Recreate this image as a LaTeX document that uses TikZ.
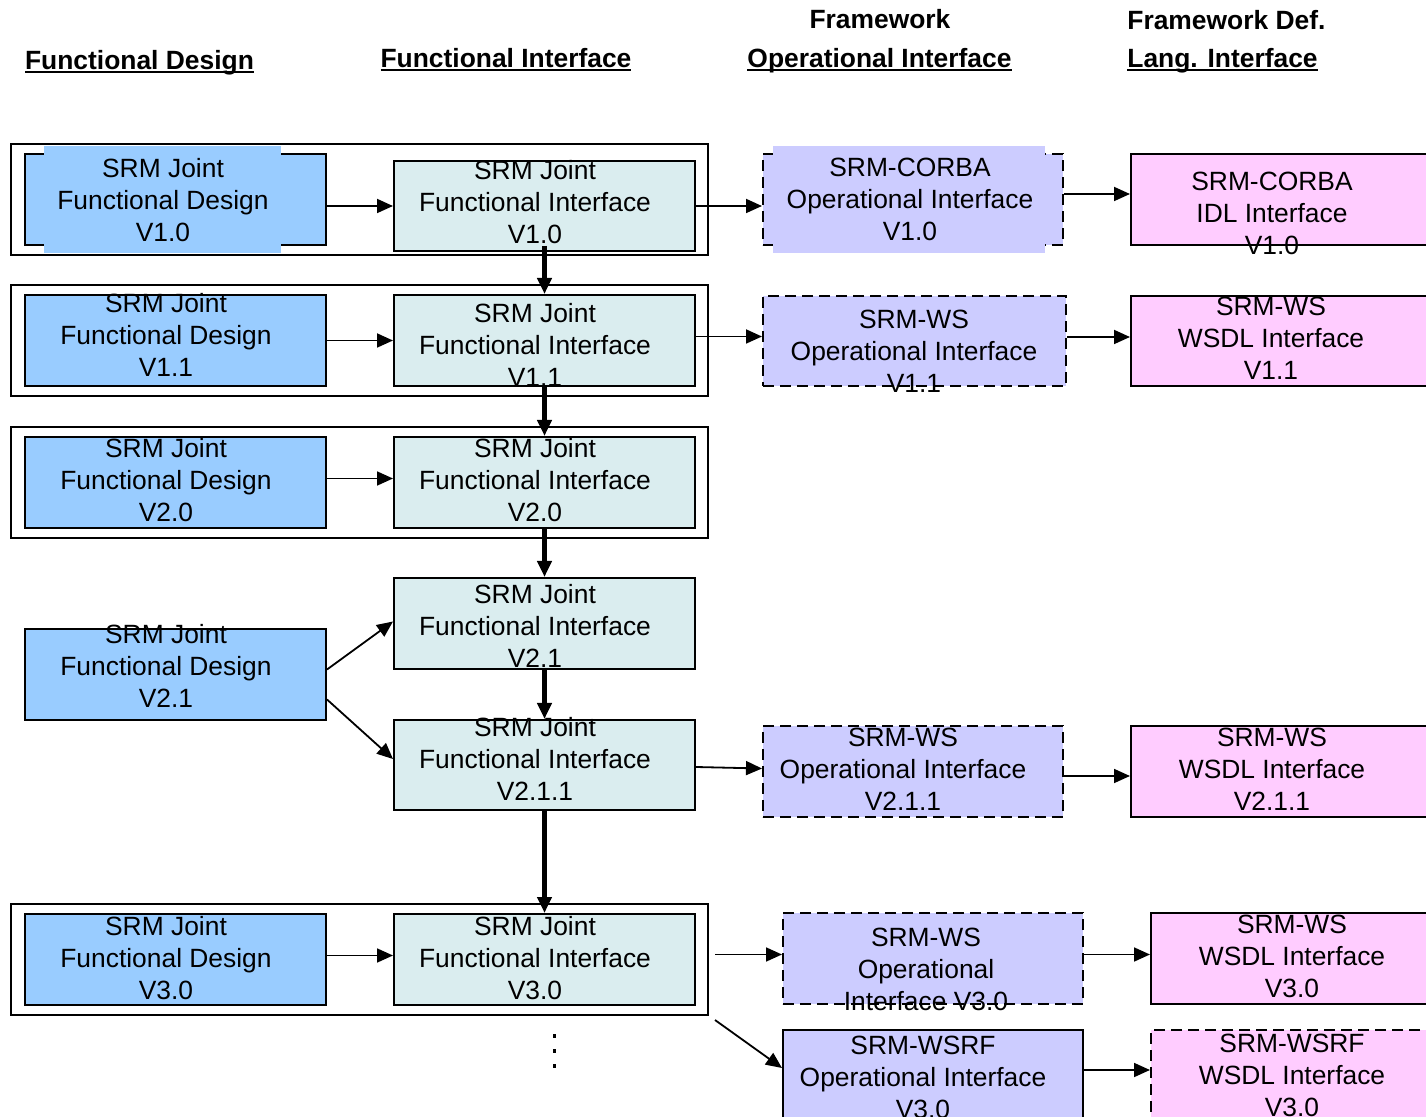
\documentclass[tikz,border=0pt]{standalone}
\usepackage{fontspec}
\setmainfont{Liberation Sans}
\usepackage{xcolor}
\usetikzlibrary{arrows.meta,calc}

\definecolor{dsgnblue}{RGB}{153,204,255}
\definecolor{ifcteal}{RGB}{218,237,239}
\definecolor{oplav}{RGB}{204,204,255}
\definecolor{langpink}{RGB}{255,204,255}

% underline sitting close to the baseline
\newsavebox{\hdrbox}
\newcommand{\hdrul}[1]{\sbox{\hdrbox}{#1}\rlap{\rule[-2pt]{\wd\hdrbox}{1pt}}\usebox{\hdrbox}}

\tikzset{
  box/.style={draw, line width=1pt, minimum height=45.5pt, inner sep=0pt},
  dsgn/.style={box, fill=dsgnblue, minimum width=150.5pt},
  ifc/.style={box, fill=ifcteal, minimum width=150.5pt},
  oper/.style={box, fill=oplav, minimum width=150pt},
  lang/.style={box, fill=langpink, minimum width=155pt},
  brk/.style={dash pattern=on 5.5pt off 3pt},
  grp/.style={draw, line width=1pt, minimum width=348.5pt, minimum height=55.5pt, inner sep=0pt},
  txt/.style={align=center, inner sep=0pt, font=\fontsize{13.2}{16}\selectfont},
  hdr/.style={inner sep=0pt, font=\fontsize{13.2}{16}\selectfont\bfseries},
  arr/.style={line width=0.9pt, -{Triangle[length=8pt,width=7pt]}},
  bigarr/.style={line width=2.5pt, -{Triangle[length=8pt,width=7pt]}},
}

\begin{document}
\begin{tikzpicture}[x=0.5pt,y=-0.5pt]
    \useasboundingbox (0,0) rectangle (1426,1117);
    \clip (0,0) rectangle (1426,1117);

    % Column headers
    \node[hdr, anchor=base] (hfd) at (139.5,69.5) {\hdrul{Functional Design}};
    \node[hdr, anchor=base] (hfi) at (506,67.5) {\hdrul{Functional Interface}};
    \node[hdr, anchor=base] (hfw) at (880,28.5) {Framework};
    \node[hdr, anchor=base] (hoi) at (879.5,67.5) {\hdrul{Operational Interface}};
    \node[hdr, anchor=base west] (hfdef) at (1127,29.5) {Framework Def.};
    \node[hdr, anchor=base west] (hli) at (1127,67.5) {\hdrul{Lang. Interface}};

    % Groups
    \node[grp] (g10) at (359.5,199.5) {};
    \node[grp] (g11) at (359.5,340.5) {};
    \node[grp] (g20) at (359.5,482.5) {};
    \node[grp] (g30) at (359.5,959.5) {};

    % Functional design boxes
    \node[dsgn] (d10) at (175.5,199.5) {};
    \node[dsgn] (d11) at (175.5,340.5) {};
    \node[dsgn] (d20) at (175.5,482.5) {};
    \node[dsgn] (d21) at (175.5,674.5) {};
    \node[dsgn] (d30) at (175.5,959.5) {};
    \fill[dsgnblue] (44,146) rectangle (281,253);

    % Functional interface boxes
    \node[ifc, minimum height=45pt] (i10) at (544.5,206) {};
    \node[ifc] (i11) at (544.5,340.5) {};
    \node[ifc] (i20) at (544.5,482.5) {};
    \node[ifc] (i21) at (544.5,623.5) {};
    \node[ifc, minimum height=45pt] (i211) at (544.5,765) {};
    \node[ifc] (i30) at (544.5,959.5) {};

    % Operational interface boxes
    \node[oper, brk] (o10) at (913,199.5) {};
    \fill[oplav] (773,146) rectangle (1045,253);
    \node[oper, brk, minimum width=151.5pt, minimum height=45pt] (o11) at (914.5,341) {};
    \node[oper, brk] (o211) at (913,771.5) {};
    \node[oper, brk] (o30) at (933,958.5) {};
    \node[oper] (o30rf) at (933,1075.5) {};

    % Language interface boxes
    \node[lang] (l10) at (1286,199.5) {};
    \node[lang, minimum height=45pt] (l11) at (1286,341) {};
    \node[lang] (l211) at (1286,771.5) {};
    \node[lang] (l30) at (1306,958.5) {};
    \node[lang, brk] (l30rf) at (1306,1075.5) {};

    % Box texts
    \node[txt] (d10t) at (163,200) {SRM Joint\\Functional Design\\V1.0};
    \node[txt] (d11t) at (166,335) {SRM Joint\\Functional Design\\V1.1};
    \node[txt] (d20t) at (166,480) {SRM Joint\\Functional Design\\V2.0};
    \node[txt] (d21t) at (166,666) {SRM Joint\\Functional Design\\V2.1};
    \node[txt] (d30t) at (166,958) {SRM Joint\\Functional Design\\V3.0};
    \node[txt] (i10t) at (535,202) {SRM Joint\\Functional Interface\\V1.0};
    \node[txt] (i11t) at (535,345) {SRM Joint\\Functional Interface\\V1.1};
    \node[txt] (i20t) at (535,480) {SRM Joint\\Functional Interface\\V2.0};
    \node[txt] (i21t) at (535,626) {SRM Joint\\Functional Interface\\V2.1};
    \node[txt] (i211t) at (535,759) {SRM Joint\\Functional Interface\\V2.1.1};
    \node[txt] (i30t) at (535,958) {SRM Joint\\Functional Interface\\V3.0};
    \node[txt] (o10t) at (910,199) {SRM-CORBA\\Operational Interface\\V1.0};
    \node[txt] (o11t) at (914,351) {SRM-WS\\Operational Interface\\V1.1};
    \node[txt] (o211t) at (903,769) {SRM-WS\\Operational Interface\\V2.1.1};
    \node[txt] (o30t) at (926,969) {SRM-WS\\Operational\\Interface V3.0};
    \node[txt] (o30rft) at (923,1077) {SRM-WSRF\\Operational Interface\\V3.0};
    \node[txt] (l10t) at (1272,213) {SRM-CORBA\\IDL Interface\\V1.0};
    \node[txt] (l11t) at (1271,338) {SRM-WS\\WSDL Interface\\V1.1};
    \node[txt] (l211t) at (1272,769) {SRM-WS\\WSDL Interface\\V2.1.1};
    \node[txt] (l30t) at (1292,956) {SRM-WS\\WSDL Interface\\V3.0};
    \node[txt] (l30rft) at (1292,1075) {SRM-WSRF\\WSDL Interface\\V3.0};

    % Arrows, design -> interface
    \draw[arr] (d10.east |- i10.west) -- (i10.west);
    \draw[arr] (d11.east) -- (i11.west);
    \draw[arr] ([yshift=2pt]d20.east) -- ([yshift=2pt]i20.west);
    \draw[arr] ([yshift=2.5pt]d21.east) -- ([yshift=1pt]i21.west);
    \draw[arr] ([yshift=-12.5pt]d21.east) -- ([yshift=3pt]i211.west);
    \draw[arr] ([yshift=2pt]d30.east) -- ([yshift=2pt]i30.west);

    % Arrows, interface -> operational -> language
    \draw[arr] (i10.east) -- (i10.east -| o10.west);
    \draw[arr] ([yshift=2.75pt]o10.east) -- ([yshift=2.75pt]o10.east -| l10.west);
    \draw[arr] ([yshift=2pt]i11.east) -- ([yshift=2pt]i11.east -| o11.west);
    \draw[arr] ([yshift=2pt]o11.east) -- ([yshift=2pt]o11.east -| l11.west);
    \draw[arr] ([yshift=-1pt]i211.east) -- ([yshift=1.5pt]o211.west);
    \draw[arr] ([yshift=-2.25pt]o211.east) -- ([yshift=-2.25pt]l211.west);
    \draw[arr] ([shift={(3pt,2.5pt)}]g30.east) -- ([yshift=2pt]o30.west);
    \draw[arr] ([shift={(3pt,-2pt)}]g30.south east) -- ([yshift=3.75pt]o30rf.west);
    \draw[arr] ([yshift=2pt]o30.east) -- ([yshift=2pt]l30.west);
    \draw[arr] ([yshift=2.75pt]o30rf.east) -- ([yshift=2.75pt]l30rf.west);

    % Version chain
    \draw[bigarr] ([yshift=3pt]i10.south) -- (i11.north);
    \draw[bigarr] (i11.south) -- (i20.north);
    \draw[bigarr] (i20.south) -- (i21.north);
    \draw[bigarr] (i21.south) -- (i211.north);
    \draw[bigarr] (i211.south) -- (i30.north);

    % More to come
    \foreach \y in {1034,1049,1064} \fill (552.5,\y) rectangle ++(3.5,3.5);
\end{tikzpicture}
\end{document}
